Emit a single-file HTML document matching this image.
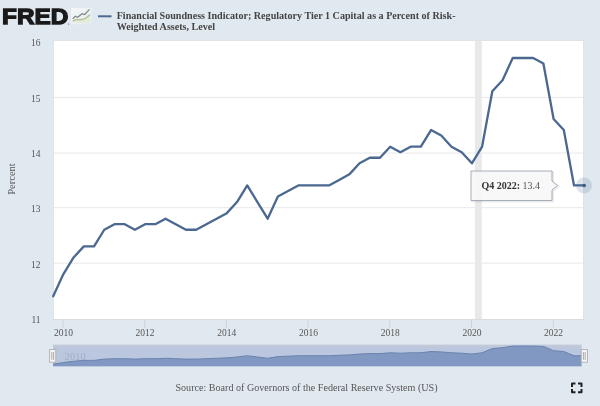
<!DOCTYPE html>
<html><head><meta charset="utf-8">
<style>
html,body{margin:0;padding:0;width:600px;height:406px;overflow:hidden;background:#e1e9f0;}
svg{display:block;position:absolute;left:0;top:0;will-change:transform;}
.tick{font-family:"Liberation Serif",serif;font-size:9.5px;fill:#555;}
.ttl{font-family:"Liberation Serif",serif;font-size:10.1px;font-weight:bold;fill:#444;}
</style></head><body>
<svg width="600" height="406" viewBox="0 0 600 406">
<rect x="0" y="0" width="600" height="406" fill="#e1e9f0"/>
<!-- logo -->
<text transform="translate(2,24.2) scale(1,1.06)" x="0" y="0" font-family="Liberation Sans" font-weight="bold" font-size="21" fill="#1a1a1a" stroke="#1a1a1a" stroke-width="1.2" textLength="66.4" lengthAdjust="spacingAndGlyphs">FRED</text>
<defs><linearGradient id="ig" x1="0" y1="0" x2="1" y2="1"><stop offset="0" stop-color="#f5f7f7"/><stop offset="1" stop-color="#e6ebee"/></linearGradient></defs>
<rect x="71" y="8" width="20.5" height="16.3" fill="url(#ig)"/>
<path d="M72.7,22.5 L72.7,21 L76,19.5 L80,19.9 L85.3,18.5 L90,14.7 L90,22.5 Z" fill="#e3ead8"/>
<polyline points="72.7,21 76,19.5 80,19.9 85.3,18.5 90,14.7" fill="none" stroke="#aabf8c" stroke-width="1.2"/>
<polyline points="72.7,18.9 75.3,16.3 77.7,17.3 82,13.7 84.7,14.5 89.5,9.3" fill="none" stroke="#808888" stroke-width="1.2"/>
<circle cx="68.6" cy="24" r="0.6" fill="#555"/>
<line x1="98" x2="111.5" y1="16.3" y2="16.3" stroke="#4a6a94" stroke-width="2"/>
<text x="116.7" y="18.7" class="ttl">Financial Soundness Indicator; Regulatory Tier 1 Capital as a Percent of Risk-</text>
<text x="116.7" y="30" class="ttl">Weighted Assets, Level</text>
<!-- plot -->
<rect x="53" y="40" width="531" height="280" fill="#e1e3e7"/>
<rect x="54" y="41" width="529" height="278" fill="#ffffff"/>
<line x1="53" x2="584" y1="319.5" y2="319.5" stroke="#d8dbe0" stroke-width="1"/>
<line x1="54" x2="583" y1="97.4" y2="97.4" stroke="#e8e8e8" stroke-width="1"/>
<line x1="54" x2="583" y1="153.0" y2="153.0" stroke="#e8e8e8" stroke-width="1"/>
<line x1="54" x2="583" y1="207.7" y2="207.7" stroke="#e8e8e8" stroke-width="1"/>
<line x1="54" x2="583" y1="263.1" y2="263.1" stroke="#e8e8e8" stroke-width="1"/>

<rect x="475" y="41" width="6.8" height="278" fill="#e9e9e9"/>
<line x1="63.0" x2="63.0" y1="320" y2="327.5" stroke="#cdd2d9" stroke-width="1"/>
<text x="63.4" y="336" text-anchor="middle" class="tick">2010</text>
<line x1="144.7" x2="144.7" y1="320" y2="327.5" stroke="#cdd2d9" stroke-width="1"/>
<text x="145.1" y="336" text-anchor="middle" class="tick">2012</text>
<line x1="226.4" x2="226.4" y1="320" y2="327.5" stroke="#cdd2d9" stroke-width="1"/>
<text x="226.8" y="336" text-anchor="middle" class="tick">2014</text>
<line x1="308.1" x2="308.1" y1="320" y2="327.5" stroke="#cdd2d9" stroke-width="1"/>
<text x="308.5" y="336" text-anchor="middle" class="tick">2016</text>
<line x1="389.8" x2="389.8" y1="320" y2="327.5" stroke="#cdd2d9" stroke-width="1"/>
<text x="390.2" y="336" text-anchor="middle" class="tick">2018</text>
<line x1="471.5" x2="471.5" y1="320" y2="327.5" stroke="#cdd2d9" stroke-width="1"/>
<text x="471.9" y="336" text-anchor="middle" class="tick">2020</text>
<line x1="553.2" x2="553.2" y1="320" y2="327.5" stroke="#cdd2d9" stroke-width="1"/>
<text x="553.6" y="336" text-anchor="middle" class="tick">2022</text>

<text x="40.6" y="45.7" text-anchor="end" class="tick">16</text>
<text x="40.6" y="101.6" text-anchor="end" class="tick">15</text>
<text x="40.6" y="156.5" text-anchor="end" class="tick">14</text>
<text x="40.6" y="212.1" text-anchor="end" class="tick">13</text>
<text x="40.6" y="267.6" text-anchor="end" class="tick">12</text>
<text x="40.6" y="323.3" text-anchor="end" class="tick">11</text>

<text transform="translate(14.6,179) rotate(-90)" text-anchor="middle" font-family="Liberation Serif" font-size="10.5" fill="#555">Percent</text>
<polyline points="53.19,296.24 63.40,274.08 73.61,257.46 83.83,246.38 94.04,246.38 104.25,229.76 114.46,224.22 124.68,224.22 134.89,229.76 145.10,224.22 155.31,224.22 165.53,218.68 175.74,224.22 185.95,229.76 196.16,229.76 206.38,224.22 216.59,218.68 226.80,213.14 237.01,202.06 247.23,185.44 257.44,202.06 267.65,218.68 277.86,196.52 288.07,190.98 298.29,185.44 308.50,185.44 318.71,185.44 328.93,185.44 339.14,179.90 349.35,174.36 359.56,163.28 369.77,157.74 379.99,157.74 390.20,146.66 400.41,152.20 410.62,146.66 420.84,146.66 431.05,130.04 441.26,135.58 451.47,146.66 461.69,152.20 471.90,163.28 482.11,146.66 492.32,91.26 502.54,80.18 512.75,58.02 522.96,58.02 533.18,58.02 543.39,63.56 553.60,118.96 563.81,130.04 574.02,185.44 584.24,185.44" fill="none" stroke="#4a6890" stroke-width="2.3" stroke-linejoin="round" stroke-linecap="round"/>
<!-- navigator -->
<clipPath id="nc"><rect x="53" y="344" width="528.5" height="23"/></clipPath>
<g clip-path="url(#nc)">
<rect x="53" y="344.8" width="530" height="21.5" fill="#bbc7df"/>
<rect x="53" y="344.8" width="530" height="2.4" fill="#c1c9d9"/>
<text x="64.6" y="359.6" font-family="Liberation Serif" font-size="10.6" fill="#a1adc5">2010</text>
<path d="M53.19,366.3 L53.19,364.20 L63.40,362.51 L73.61,361.24 L83.83,360.39 L94.04,360.39 L104.25,359.12 L114.46,358.70 L124.68,358.70 L134.89,359.12 L145.10,358.70 L155.31,358.70 L165.53,358.27 L175.74,358.70 L185.95,359.12 L196.16,359.12 L206.38,358.70 L216.59,358.27 L226.80,357.85 L237.01,357.00 L247.23,355.73 L257.44,357.00 L267.65,358.27 L277.86,356.58 L288.07,356.16 L298.29,355.73 L308.50,355.73 L318.71,355.73 L328.93,355.73 L339.14,355.31 L349.35,354.89 L359.56,354.04 L369.77,353.62 L379.99,353.62 L390.20,352.77 L400.41,353.20 L410.62,352.77 L420.84,352.77 L431.05,351.50 L441.26,351.93 L451.47,352.77 L461.69,353.20 L471.90,354.04 L482.11,352.77 L492.32,348.54 L502.54,347.69 L512.75,346.00 L522.96,346.00 L533.18,346.00 L543.39,346.42 L553.60,350.66 L563.81,351.50 L574.02,355.73 L584.24,355.73 L584.24,366.3 Z" fill="#8199c2"/>
<polyline points="53.19,364.20 63.40,362.51 73.61,361.24 83.83,360.39 94.04,360.39 104.25,359.12 114.46,358.70 124.68,358.70 134.89,359.12 145.10,358.70 155.31,358.70 165.53,358.27 175.74,358.70 185.95,359.12 196.16,359.12 206.38,358.70 216.59,358.27 226.80,357.85 237.01,357.00 247.23,355.73 257.44,357.00 267.65,358.27 277.86,356.58 288.07,356.16 298.29,355.73 308.50,355.73 318.71,355.73 328.93,355.73 339.14,355.31 349.35,354.89 359.56,354.04 369.77,353.62 379.99,353.62 390.20,352.77 400.41,353.20 410.62,352.77 420.84,352.77 431.05,351.50 441.26,351.93 451.47,352.77 461.69,353.20 471.90,354.04 482.11,352.77 492.32,348.54 502.54,347.69 512.75,346.00 522.96,346.00 533.18,346.00 543.39,346.42 553.60,350.66 563.81,351.50 574.02,355.73 584.24,355.73" fill="none" stroke="#6a82ae" stroke-width="1"/>
</g>
<rect x="49.6" y="349.6" width="6.2" height="12.6" fill="#f4f4f4" stroke="#a8a8a8" stroke-width="0.8"/>
<line x1="51.8" x2="51.8" y1="352" y2="359.8" stroke="#7a7a7a" stroke-width="0.6"/>
<line x1="53.6" x2="53.6" y1="352" y2="359.8" stroke="#7a7a7a" stroke-width="0.6"/>
<rect x="581.2" y="349.6" width="6.2" height="12.6" fill="#f4f4f4" stroke="#a8a8a8" stroke-width="0.8"/>
<line x1="583.4" x2="583.4" y1="352" y2="359.8" stroke="#7a7a7a" stroke-width="0.6"/>
<line x1="585.2" x2="585.2" y1="352" y2="359.8" stroke="#7a7a7a" stroke-width="0.6"/>
<!-- source -->
<text x="306.5" y="390.5" text-anchor="middle" font-family="Liberation Serif" font-size="10.1" fill="#555">Source: Board of Governors of the Federal Reserve System (US)</text>
<!-- fullscreen icon -->
<path d="M572,387 L572,383.5 L575.5,383.5 M578,383.5 L581.5,383.5 L581.5,387 M581.5,389 L581.5,392.3 L578,392.3 M575.5,392.3 L572,392.3 L572,389" fill="none" stroke="#222" stroke-width="2" stroke-linejoin="round"/>
<!-- marker -->
<circle cx="584" cy="185.5" r="8" fill="#4a6890" fill-opacity="0.18"/>
<circle cx="584.2" cy="185.5" r="1.8" fill="#3f5a80"/>
<!-- tooltip -->
<path d="M472,172 L553,172 L553,182 L558.5,186.5 L553,191 L553,201.5 L472,201.5 Z" fill="none" stroke="#000" stroke-opacity="0.08" stroke-width="2"/>
<path d="M471,171 L552,171 L552,181 L557.5,185.5 L552,190 L552,200.5 L471,200.5 Z" fill="#f7f7f7" fill-opacity="0.88" stroke="#a6aebb" stroke-width="1"/>
<text x="481.5" y="189.3" font-family="Liberation Serif" font-size="10" fill="#555"><tspan font-weight="bold" fill="#333">Q4 2022:</tspan> 13.4</text>
</svg>
</body></html>
